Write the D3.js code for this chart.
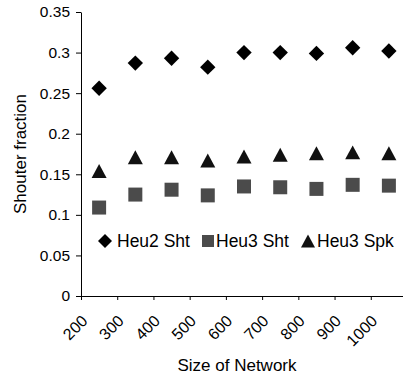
<!DOCTYPE html>
<html>
<head>
<meta charset="utf-8" />
<title>Shouter fraction</title>
<script src="https://d3js.org/d3.v7.min.js"></script>
<style>
  body { margin: 0; background: #fff; }
  svg { display: block; font-family: "Liberation Sans", Arial, sans-serif; }
</style>
</head>
<body>
<div id="chart"></div>
<script>
// network sizes (x) and the three series
var sizes = [250, 350, 450, 550, 650, 750, 850, 950, 1050];
var heu2Sht = [0.256, 0.287, 0.293, 0.282, 0.300, 0.300, 0.299, 0.306, 0.302];
var heu3Sht = [0.109, 0.125, 0.131, 0.124, 0.135, 0.134, 0.132, 0.137, 0.136];
var heu3Spk = [0.154, 0.171, 0.171, 0.167, 0.172, 0.174, 0.176, 0.177, 0.176];

var xTicks = [200, 300, 400, 500, 600, 700, 800, 900, 1000];
var yTicks = [0, 0.05, 0.1, 0.15, 0.2, 0.25, 0.3, 0.35];
var yTickLabels = ["0", "0.05", "0.1", "0.15", "0.2", "0.25", "0.3", "0.35"];
var seriesNames = ["Heu2 Sht", "Heu3 Sht", "Heu3 Spk"];

var width = 403, height = 378;

var svg = d3.select("#chart").append("svg")
  .attr("width", width).attr("height", height);

var x = d3.scaleLinear().domain([200, 1100]).range([81, 407]);
var y = d3.scaleLinear().domain([0, 0.35]).range([296, 12]);

// triangle centred on its bounding box
var triangle = {
  draw: function(ctx, size) {
    var w = Math.sqrt(size), h = w * 0.93;
    ctx.moveTo(0, -h / 2);
    ctx.lineTo(w / 2, h / 2);
    ctx.lineTo(-w / 2, h / 2);
    ctx.closePath();
  }
};

// axes
var yAxis = svg.append("g").attr("transform", "translate(81,0)")
  .call(d3.axisLeft(y).tickValues(yTicks)
    .tickFormat(function(d, i) { return yTickLabels[i]; })
    .tickSize(5).tickSizeOuter(0).tickPadding(6));
yAxis.selectAll("text").attr("font-size", 15.5).attr("fill", "#000").attr("font-family", null);

var xAxis = svg.append("g").attr("transform", "translate(0,296)")
  .call(d3.axisBottom(x).tickValues(xTicks).tickFormat(d3.format("d"))
    .tickSize(4).tickSizeOuter(0));
xAxis.selectAll("text")
  .attr("font-size", 16).attr("fill", "#000").attr("font-family", null)
  .attr("x", 0).attr("y", 0).attr("dy", 0)
  .attr("text-anchor", "end")
  .attr("transform", "translate(7,26) rotate(-45)");
svg.selectAll(".domain, .tick line").attr("stroke", "#000");

// axis titles
svg.append("text")
  .attr("transform", "translate(26,154) rotate(-90)")
  .attr("text-anchor", "middle").attr("font-size", 17)
  .text("Shouter fraction");
svg.append("text")
  .attr("x", 237).attr("y", 371)
  .attr("text-anchor", "middle").attr("font-size", 17)
  .text("Size of Network");

// points
var diamond = d3.symbol().type(d3.symbolSquare).size(118);
var square = d3.symbol().type(d3.symbolSquare).size(196);
var tri = d3.symbol().type(triangle).size(225);

svg.append("g").selectAll("path").data(sizes).enter().append("path")
  .attr("d", square)
  .attr("transform", function(d, i) { return "translate(" + x(d) + "," + y(heu3Sht[i]) + ")"; })
  .attr("fill", "#4b4b4b");

svg.append("g").selectAll("path").data(sizes).enter().append("path")
  .attr("d", tri)
  .attr("transform", function(d, i) { return "translate(" + x(d) + "," + y(heu3Spk[i]) + ")"; })
  .attr("fill", "#111");

svg.append("g").selectAll("path").data(sizes).enter().append("path")
  .attr("d", diamond)
  .attr("transform", function(d, i) { return "translate(" + x(d) + "," + y(heu2Sht[i]) + ") rotate(45)"; })
  .attr("fill", "#000");

// legend
var legend = svg.append("g");
legend.append("path").attr("d", d3.symbol().type(d3.symbolSquare).size(98))
  .attr("transform", "translate(105,241) rotate(45)").attr("fill", "#000");
legend.append("path").attr("d", d3.symbol().type(d3.symbolSquare).size(144))
  .attr("transform", "translate(208,241)").attr("fill", "#4b4b4b");
legend.append("path").attr("d", d3.symbol().type(triangle).size(196))
  .attr("transform", "translate(308,241)").attr("fill", "#111");
var legendX = [117, 216, 317];
legend.selectAll("text").data(seriesNames).enter().append("text")
  .attr("x", function(d, i) { return legendX[i]; })
  .attr("y", 247).attr("font-size", 17.5)
  .text(function(d) { return d; });
</script>
</body>
</html>
